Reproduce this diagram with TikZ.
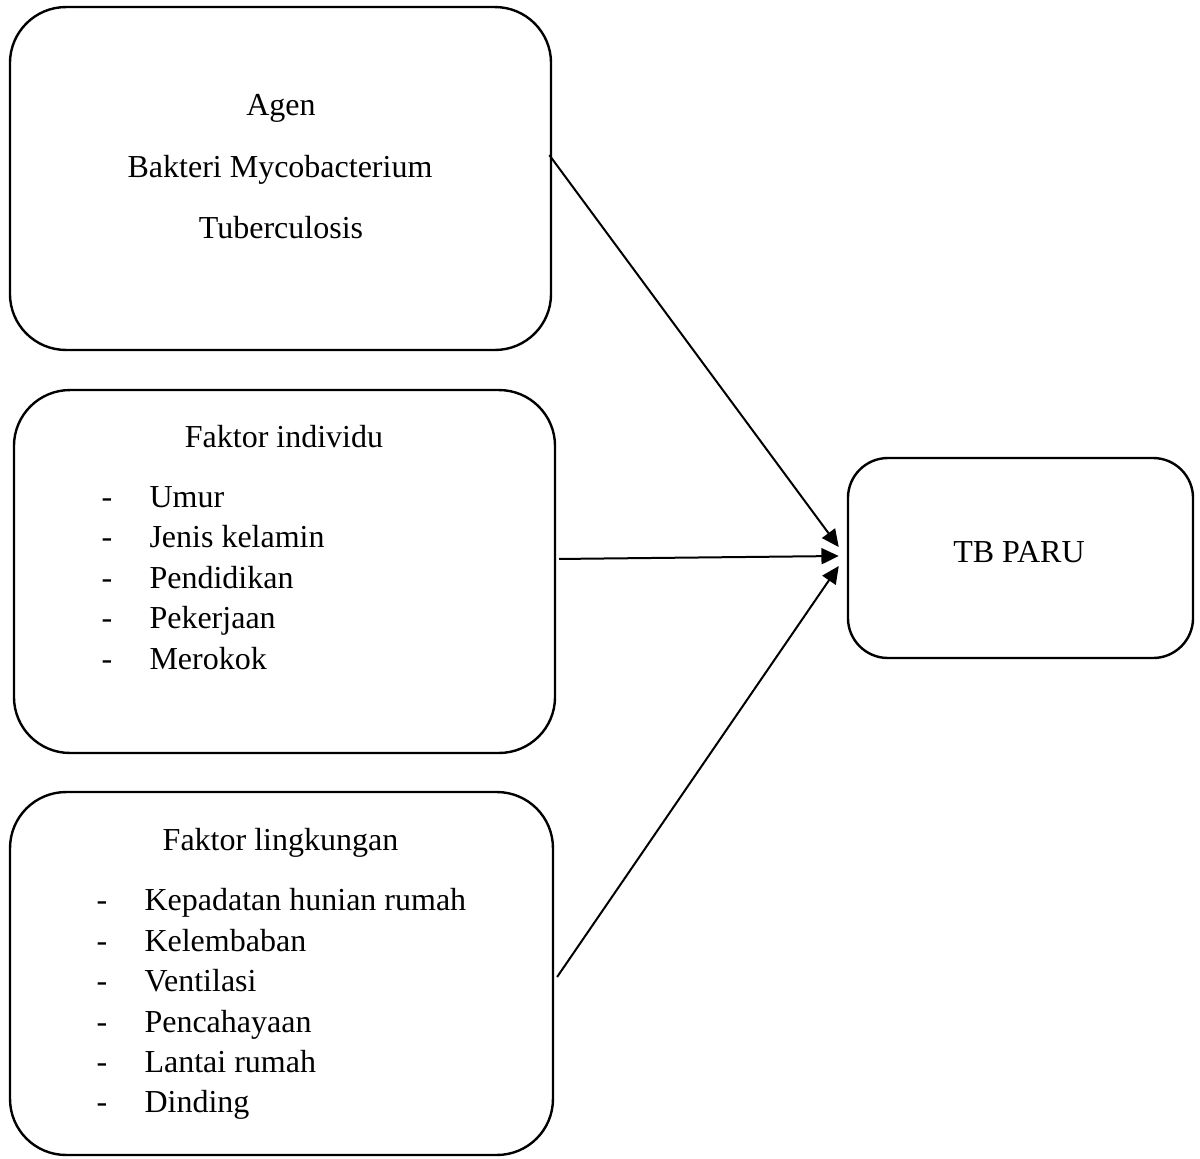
\documentclass[tikz,border=0pt]{standalone}
\usepackage{fontspec}
\setmainfont{Liberation Serif}
\usetikzlibrary{arrows.meta,positioning}

\begin{document}
\begin{tikzpicture}[x=0.375pt,y=-0.375pt,
box/.style={draw,line width=0.9pt,rounded corners=21pt,inner sep=0pt},
txt/.style={inner sep=0pt,font=\fontsize{12}{15}\selectfont},
arr/.style={line width=0.75pt,-{Triangle[length=6.5pt,width=6pt]}}]
 \useasboundingbox (0,0) rectangle (1200,1158);
 % boxes
 \node[box,minimum width=202.9pt,minimum height=128.6pt] (agen) at (280.5,178.5) {};
 \node[box,minimum width=202.9pt,minimum height=136.1pt] (indiv) at (284.5,571.5) {};
 \node[box,minimum width=203.6pt,minimum height=136.1pt] (lingk) at (281.5,973.5) {};
 \node[box,rounded corners=15pt,minimum width=129.4pt,minimum height=75pt] (tb) at (1020.5,558) {};
 % texts
 \node[txt,anchor=base] (agen1) at (281,115) {Agen};
 \node[txt,anchor=base] (agen2) at (280,177) {Bakteri Mycobacterium};
 \node[txt,anchor=base] (agen3) at (281,238) {Tuberculosis};
 \node[txt,anchor=base] (indivh) at (284,447) {Faktor individu};
 \foreach \X [count=\i] in {Umur,Jenis kelamin,Pendidikan,Pekerjaan,Merokok}
 {\node[txt,anchor=base west] (indivd\i) at (101,{466.5+40.5*\i}) {-};
 \node[txt,anchor=base west] (indiv\i) at (149,{466.5+40.5*\i}) {\X};}
 \node[txt,anchor=base] (lingkh) at (280.5,850) {Faktor lingkungan};
 \foreach \X [count=\i] in {Kepadatan hunian rumah,Kelembaban,Ventilasi,Pencahayaan,Lantai rumah,Dinding}
 {\node[txt,anchor=base west] (lingkd\i) at (96,{870.5+40.4*\i}) {-};
 \node[txt,anchor=base west] (lingk\i) at (144,{870.5+40.4*\i}) {\X};}
 \node[txt,anchor=base] (tbt) at (1019,562) {TB PARU};
 % arrows
 \draw[arr] ([xshift=-1.1pt,yshift=8.8pt]agen.east) -- ([xshift=-3pt,yshift=4.1pt]tb.west);
 \draw[arr] ([xshift=1.1pt,yshift=4.7pt]indiv.east) -- ([xshift=-3pt,yshift=0.75pt]tb.west);
 \draw[arr] ([xshift=1.1pt,yshift=-1.3pt]lingk.east) -- ([xshift=-3pt,yshift=-3pt]tb.west);
\end{tikzpicture}
\end{document}
